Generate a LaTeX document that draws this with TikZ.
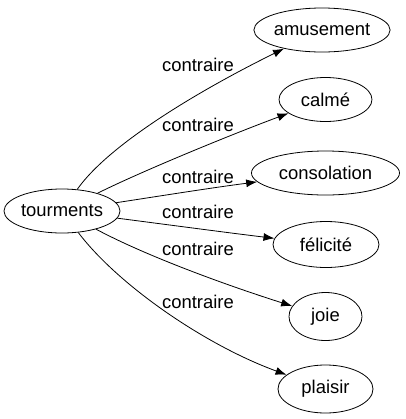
\documentclass[tikz,border=0pt]{standalone}
\usepackage{fontspec}
\setmainfont{Liberation Sans}
\usetikzlibrary{shapes.geometric,arrows.meta}
\begin{document}
\begin{tikzpicture}[x=1bp,y=-1bp,
  every node/.style={font=\fontsize{18.5}{22}\selectfont},
  word/.style={ellipse,draw,line width=0.8pt,inner sep=0pt},
  rel/.style={draw,line width=0.8pt,-{Latex[length=11bp,width=8bp]}},
  lbl/.style={inner sep=0pt}]
\useasboundingbox (0,0) rectangle (406,419);
\node[word,minimum width=116bp,minimum height=44bp] (t) at (62,211) {tourments};
\node[word,minimum width=136bp,minimum height=44bp] (a) at (322,30) {amusement};
\node[word,minimum width=93bp,minimum height=44bp] (c) at (325.5,99.5) {calmé};
\node[word,minimum width=148bp,minimum height=44bp] (co) at (325.5,173) {consolation};
\node[word,minimum width=106bp,minimum height=46bp] (f) at (326,244.5) {félicité};
\node[word,minimum width=73bp,minimum height=48bp] (j) at (325.5,316.5) {joie};
\node[word,minimum width=95bp,minimum height=48bp] (p) at (325.5,389) {plaisir};
\draw[rel] (t) .. controls (112,140) and (214,83) .. (a);
\draw[rel] (t) .. controls (140,172) and (230,135) .. (c);
\draw[rel] (t) .. controls (160,196) and (210,188) .. (co);
\draw[rel] (t) .. controls (170,225) and (230,233) .. (f);
\draw[rel] (t) .. controls (150,258) and (235,288) .. (j);
\draw[rel] (t) .. controls (118,285) and (205,345) .. (p);
\node[lbl] (l1) at (198,65) {contraire};
\node[lbl] (l2) at (198,125) {contraire};
\node[lbl] (l3) at (198,177) {contraire};
\node[lbl] (l4) at (198,212) {contraire};
\node[lbl] (l5) at (198,249) {contraire};
\node[lbl] (l6) at (198,302) {contraire};
\end{tikzpicture}
\end{document}
